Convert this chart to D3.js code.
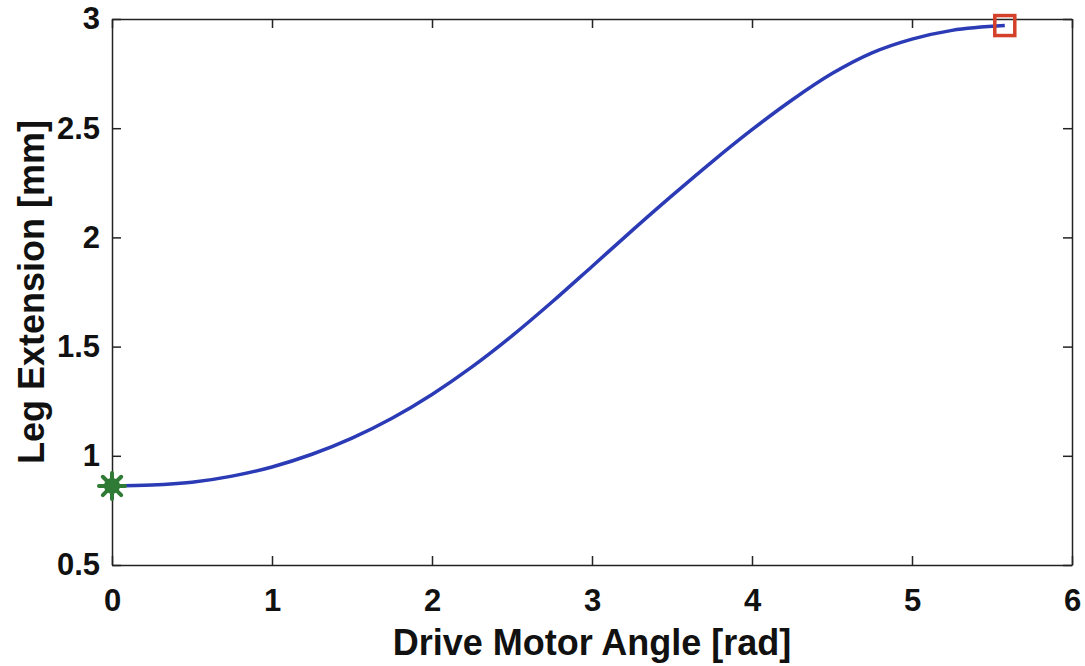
<!DOCTYPE html>
<html>
<head>
<meta charset="utf-8">
<script src="https://cdn.jsdelivr.net/npm/d3@7"></script>
<style>
  body { margin: 0; background: #fff; }
  text { font-family: "Liberation Sans", Arial, sans-serif; font-weight: bold; fill: #111; }
</style>
</head>
<body>
<svg id="chart" width="1085" height="666"></svg>
<script>
// Curve: drive motor angle [rad] vs leg extension [mm]
var angle = [0, 0.25, 0.5, 0.75, 1.0, 1.25, 1.5, 1.75, 2.0, 2.25, 2.5, 2.75, 3.0,
             3.25, 3.5, 3.75, 4.0, 4.25, 4.5, 4.75, 5.0, 5.25, 5.58];
var extension = [0.862, 0.866, 0.879, 0.907, 0.949, 1.007, 1.081, 1.172, 1.281, 1.407, 1.549, 1.704, 1.867,
                 2.031, 2.191, 2.346, 2.493, 2.629, 2.750, 2.845, 2.908, 2.948, 2.970];
var xTicks = [0, 1, 2, 3, 4, 5, 6];
var yTicks = [0.5, 1, 1.5, 2, 2.5, 3];
var xLabel = "Drive Motor Angle [rad]";
var yLabel = "Leg Extension [mm]";

var svg = d3.select("#chart");
var plotLeft = 112, plotRight = 1072, plotTop = 19, plotBottom = 565;

var x = d3.scaleLinear().domain([0, 6]).range([plotLeft, plotRight]);
var y = d3.scaleLinear().domain([0.5, 3]).range([plotBottom, plotTop]);

var data = angle.map((a, i) => ({ x: a, y: extension[i] }));

// Axes (MATLAB style: ticks inside, mirrored on the box)
function styleAxis(g) {
    g.selectAll(".domain").attr("stroke", "#222").attr("stroke-width", 1.5);
    g.selectAll(".tick line").attr("stroke", "#222").attr("stroke-width", 1.5);
    g.selectAll(".tick text").style("font-size", "31px");
}

svg.append("g")
    .attr("transform", `translate(0,${plotBottom})`)
    .call(d3.axisBottom(x).tickValues(xTicks).tickFormat(d3.format("d")).tickSizeInner(-9).tickSizeOuter(0).tickPadding(24))
    .call(styleAxis);

svg.append("g")
    .attr("transform", `translate(0,${plotTop})`)
    .call(d3.axisTop(x).tickValues(xTicks).tickFormat("").tickSizeInner(-9).tickSizeOuter(0))
    .call(styleAxis);

svg.append("g")
    .attr("transform", `translate(${plotLeft},0)`)
    .call(d3.axisLeft(y).tickValues(yTicks).tickFormat(d => d).tickSizeInner(-9).tickSizeOuter(0).tickPadding(12))
    .call(styleAxis);

svg.append("g")
    .attr("transform", `translate(${plotRight},0)`)
    .call(d3.axisRight(y).tickValues(yTicks).tickFormat("").tickSizeInner(-9).tickSizeOuter(0))
    .call(styleAxis);

// Curve
var line = d3.line().x(d => x(d.x)).y(d => y(d.y)).curve(d3.curveMonotoneX);
svg.append("path")
    .datum(data)
    .attr("fill", "none")
    .attr("stroke", "#2b3bb6")
    .attr("stroke-width", 3.5)
    .attr("d", line);

// Start marker (green 8-arm asterisk)
var first = data[0], last = data[data.length - 1];
var star = svg.append("g")
    .attr("transform", `translate(${x(first.x)},${y(first.y)})`);
d3.range(8).forEach(i => {
    var a = i * Math.PI / 4;
    star.append("line")
        .attr("x1", 0).attr("y1", 0)
        .attr("x2", 13 * Math.cos(a)).attr("y2", 13 * Math.sin(a))
        .attr("stroke", "#2f7a35")
        .attr("stroke-width", 4)
        .attr("stroke-linecap", "round");
});
star.append("circle").attr("r", 8).attr("fill", "#2f7a35");

// End marker (red square)
svg.append("rect")
    .attr("x", x(last.x) - 10).attr("y", y(last.y) - 10)
    .attr("width", 20).attr("height", 20)
    .attr("fill", "none")
    .attr("stroke", "#d4402a")
    .attr("stroke-width", 3.5);

// Axis titles
svg.append("text")
    .attr("x", (plotLeft + plotRight) / 2)
    .attr("y", 655)
    .attr("text-anchor", "middle")
    .style("font-size", "36px")
    .text(xLabel);

svg.append("text")
    .attr("transform", `translate(44,${(plotTop + plotBottom) / 2}) rotate(-90)`)
    .attr("text-anchor", "middle")
    .style("font-size", "36px")
    .text(yLabel);
</script>
</body>
</html>
